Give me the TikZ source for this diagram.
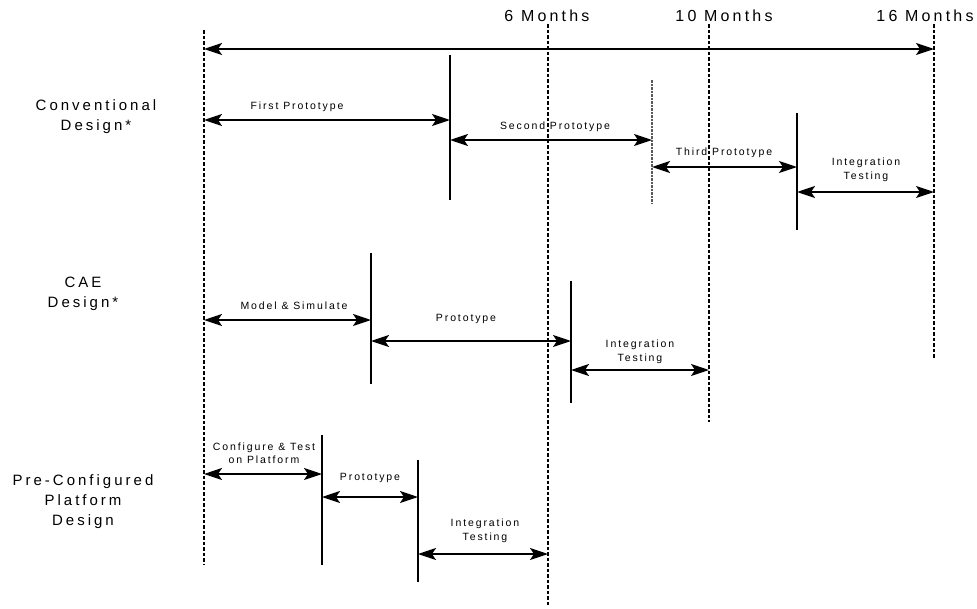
\documentclass[tikz,border=0pt]{standalone}
\usepackage{fontspec}
\setmainfont{Liberation Sans}
\newfontfamily\bigf[LetterSpace=20]{Liberation Sans}
\newfontfamily\smallf[LetterSpace=18]{Liberation Sans}
\usetikzlibrary{arrows.meta}
\tikzset{
  timeline/.style={line width=1.3pt, dash pattern=on 3.5pt off 2pt},
  milestone/.style={line width=1.5pt},
  softmile/.style={line width=1.1pt, black!65, dash pattern=on 2.5pt off 1pt},
  tip/.tip={Stealth[length=18pt,width=12pt,inset=4pt]},
  span/.style={line width=1.9pt, tip-tip},
  month/.style={font=\bigf\fontsize{16}{19}\selectfont, inner sep=0pt},
  rowlabel/.style={font=\bigf\fontsize{15}{20}\selectfont, align=center, inner sep=0pt},
  phase/.style={font=\smallf\fontsize{10.5}{13.5}\selectfont, align=center, inner sep=0pt},
}
\begin{document}
\begin{tikzpicture}[x=1pt,y=-1pt]
\useasboundingbox (0,0) rectangle (977,608);
% time marker lines
\coordinate (d0t) at (204,30);  \coordinate (d0b) at (204,565);
\coordinate (d6t) at (548,24);  \coordinate (d6b) at (548,605);
\coordinate (d10t) at (709,24); \coordinate (d10b) at (709,422);
\coordinate (d16t) at (934,24); \coordinate (d16b) at (934,358);
\draw[timeline] (d0t) -- (d0b);
\draw[timeline] (d6t) -- (d6b);
\draw[timeline] (d10t) -- (d10b);
\draw[timeline] (d16t) -- (d16b);
\node[month] (m6) at (547,16) {6 Months};
\node[month] (m10) at (724,16) {10 Months};
\node[month] (m16) at (925,16) {16 Months};
\coordinate (topL) at (204,49); \coordinate (topR) at (934,49);
\draw[span] (topL) -- (topR);

% Conventional
\node[rowlabel] (conv) at (96,117) {Conventional\\Design*};
\coordinate (v1t) at (450,55);  \coordinate (v1b) at (450,200);
\coordinate (v2t) at (652,80);  \coordinate (v2b) at (652,203);
\coordinate (v3t) at (797,113); \coordinate (v3b) at (797,230);
\draw[milestone] (v1t) -- (v1b);
\draw[softmile] (v2t) -- (v2b);
\draw[milestone] (v3t) -- (v3b);
\coordinate (a1l) at (204,120); \coordinate (a1r) at (450,120);
\coordinate (a2l) at (450,140); \coordinate (a2r) at (652,140);
\coordinate (a3l) at (652,167); \coordinate (a3r) at (797,167);
\coordinate (a4l) at (797,192); \coordinate (a4r) at (934,192);
\draw[span] (a1l) -- (a1r);
\draw[span] (a2l) -- (a2r);
\draw[span] (a3l) -- (a3r);
\draw[span] (a4l) -- (a4r);
\node[phase] (p1) at (297,107) {First Prototype};
\node[phase] (p2) at (555,127) {Second Prototype};
\node[phase] (p3) at (724,153) {Third Prototype};
\node[phase] (p4) at (866,170) {Integration\\Testing};

% CAE
\node[rowlabel] (cae) at (83,294) {CAE\\Design*};
\coordinate (v4t) at (371,253); \coordinate (v4b) at (371,384);
\coordinate (v5t) at (571,281); \coordinate (v5b) at (571,403);
\draw[milestone] (v4t) -- (v4b);
\draw[milestone] (v5t) -- (v5b);
\coordinate (b1l) at (204,320); \coordinate (b1r) at (371,320);
\coordinate (b2l) at (371,341); \coordinate (b2r) at (571,341);
\coordinate (b3l) at (571,370); \coordinate (b3r) at (709,370);
\draw[span] (b1l) -- (b1r);
\draw[span] (b2l) -- (b2r);
\draw[span] (b3l) -- (b3r);
\node[phase] (q1) at (294,306) {Model \& Simulate};
\node[phase] (q2) at (466,319) {Prototype};
\node[phase] (q3) at (640,352) {Integration\\Testing};

% Pre-configured
\node[rowlabel] (pre) at (83,502) {Pre-Configured\\Platform\\Design};
\coordinate (v6t) at (322,435); \coordinate (v6b) at (322,565);
\coordinate (v7t) at (418,460); \coordinate (v7b) at (418,582);
\draw[milestone] (v6t) -- (v6b);
\draw[milestone] (v7t) -- (v7b);
\coordinate (c1l) at (204,474); \coordinate (c1r) at (322,474);
\coordinate (c2l) at (322,497); \coordinate (c2r) at (418,497);
\coordinate (c3l) at (418,554); \coordinate (c3r) at (548,554);
\draw[span] (c1l) -- (c1r);
\draw[span] (c2l) -- (c2r);
\draw[span] (c3l) -- (c3r);
\node[phase] (r1) at (264,453) {Configure \& Test\\on Platform};
\node[phase] (r2) at (370,478) {Prototype};
\node[phase] (r3) at (485,531) {Integration\\Testing};
\end{tikzpicture}
\end{document}
